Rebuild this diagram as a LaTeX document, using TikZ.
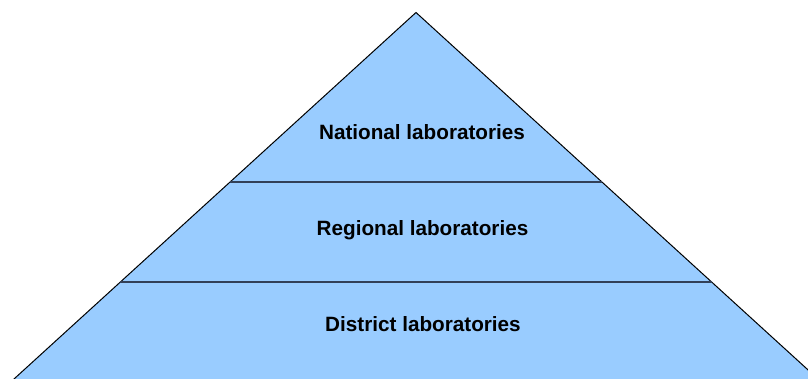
\documentclass[tikz,border=0pt]{standalone}
\usepackage{fontspec}
\setmainfont{Liberation Sans}
\definecolor{pyrfill}{RGB}{153,204,255}
\definecolor{divline}{RGB}{50,64,88}
\begin{document}
\begin{tikzpicture}[x=1pt,y=-1pt,
  lvltext/.style={anchor=base,inner sep=0pt,font=\fontsize{20.7}{24}\selectfont\bfseries},
  divider/.style={draw=divline,line width=1.6pt}]
\useasboundingbox (0,0) rectangle (808,379);
\clip (0,0) rectangle (808,379);
\coordinate (apex) at (416,12.5);
\coordinate (bl) at (7.4,385);
\coordinate (br) at (824.6,385);
\filldraw[fill=pyrfill,draw=black,line width=1pt,line join=miter] (apex) -- (br) -- (bl) -- cycle;
\coordinate (l1) at (230.1,182);
\coordinate (r1) at (601.9,182);
\coordinate (l2) at (120.4,282);
\coordinate (r2) at (711.6,282);
\draw[divider] (l1) -- (r1);
\draw[divider] (l2) -- (r2);
\node[lvltext] (nat) at (422,140) {National laboratories};
\node[lvltext] (reg) at (422.5,236) {Regional laboratories};
\node[lvltext] (dis) at (423,331.5) {District laboratories};
\end{tikzpicture}
\end{document}
